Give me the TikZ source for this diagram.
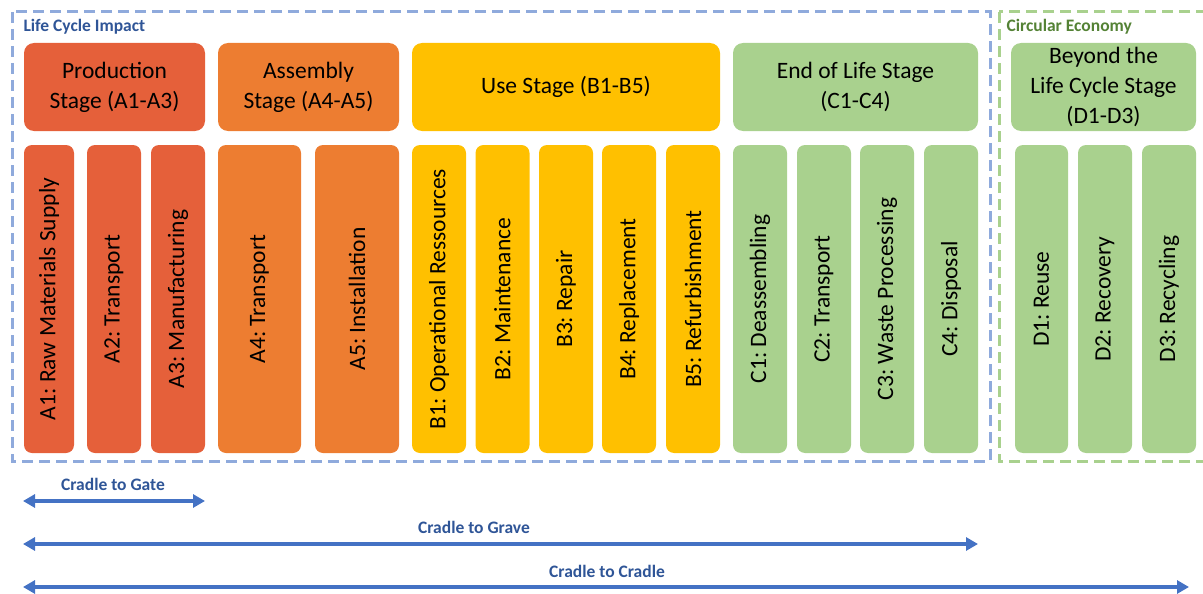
\documentclass[tikz,border=0pt]{standalone}
\usepackage{fontspec}
\setmainfont{Carlito}
\usetikzlibrary{arrows.meta}
\frenchspacing

\definecolor{prodred}{HTML}{E5603A}
\definecolor{asmorange}{HTML}{ED7D31}
\definecolor{usegold}{HTML}{FFC000}
\definecolor{eolgreen}{HTML}{A9D18E}
\definecolor{lciblue}{HTML}{8FAADC}
\definecolor{titleblue}{HTML}{2F5597}
\definecolor{titlegreen}{HTML}{548235}
\definecolor{arrowblue}{HTML}{4472C4}

\tikzset{
    stage/.style = {rounded corners = 10pt, inner sep = 0pt, align = center,
        font = \fontsize{23.5}{30}\selectfont},
    module/.style = {rounded corners = 8pt, inner sep = 0pt, rotate = 90,
        minimum width = 308pt, font = \fontsize{23.5}{30}\selectfont},
    frame/.style = {line width = 3pt, dash pattern = on 11pt off 6pt},
    boxtitle/.style = {anchor = west, font = \fontsize{17.5}{20}\selectfont\bfseries},
    cycle/.style = {arrowblue, line width = 4pt, {Triangle[length = 12pt, width = 13pt]}-{Triangle[length = 12pt, width = 13pt]}},
    cyclelabel/.style = {titleblue, font = \fontsize{17.5}{20}\selectfont\bfseries}
}

\begin{document}
\begin{tikzpicture}[x = 1pt, y = -1pt]
    \useasboundingbox (0, 0) rectangle (1203, 594);

    % Rahmen
    \draw [frame, lciblue] (12, 12) rectangle (990, 461);
    \draw [frame, eolgreen] (999, 12) rectangle (1215, 461);
    \node [boxtitle, titleblue] (lci) at (20, 27) {Life Cycle Impact};
    \node [boxtitle, titlegreen] (ce) at (1003, 27) {Circular Economy};

    % Stufen
    \node [stage, fill = prodred, minimum width = 181pt, minimum height = 88pt] (prod) at (114.5, 87) {Production\\Stage (A1-A3)};
    \node [stage, fill = asmorange, minimum width = 181pt, minimum height = 88pt] (asm) at (308.5, 87) {Assembly\\Stage (A4-A5)};
    \node [stage, fill = usegold, minimum width = 308pt, minimum height = 88pt] (use) at (566, 87) {Use Stage (B1-B5)};
    \node [stage, fill = eolgreen, minimum width = 245pt, minimum height = 88pt] (eol) at (855.5, 87) {End of Life Stage\\(C1-C4)};
    \node [stage, fill = eolgreen, minimum width = 185pt, minimum height = 88pt] (beyond) at (1103.5, 87) {Beyond the\\Life Cycle Stage\\(D1-D3)};

    % Module A
    \node [module, fill = prodred, minimum height = 50pt] (a1) at (49, 299) {A1: Raw Materials Supply};
    \node [module, fill = prodred, minimum height = 54pt] (a2) at (114, 299) {A2: Transport};
    \node [module, fill = prodred, minimum height = 54pt] (a3) at (178, 299) {A3: Manufacturing};
    \node [module, fill = asmorange, minimum height = 83pt] (a4) at (259.5, 299) {A4: Transport};
    \node [module, fill = asmorange, minimum height = 84pt] (a5) at (357, 299) {A5: Installation};

    % Module B
    \node [module, fill = usegold, minimum height = 54pt] (b1) at (439, 299) {B1: Operational Ressources};
    \node [module, fill = usegold, minimum height = 54pt] (b2) at (502.5, 299) {B2: Maintenance};
    \node [module, fill = usegold, minimum height = 54pt] (b3) at (566, 299) {B3: Repair};
    \node [module, fill = usegold, minimum height = 54pt] (b4) at (629, 299) {B4: Replacement};
    \node [module, fill = usegold, minimum height = 54pt] (b5) at (693, 299) {B5: Refurbishment};

    % Module C
    \node [module, fill = eolgreen, minimum height = 54pt] (c1) at (760, 299) {C1: Deassembling};
    \node [module, fill = eolgreen, minimum height = 54pt] (c2) at (824, 299) {C2: Transport};
    \node [module, fill = eolgreen, minimum height = 54pt] (c3) at (887, 299) {C3: Waste Processing};
    \node [module, fill = eolgreen, minimum height = 54pt] (c4) at (951, 299) {C4: Disposal};

    % Module D
    \node [module, fill = eolgreen, minimum height = 53pt] (d1) at (1041.5, 299) {D1: Reuse};
    \node [module, fill = eolgreen, minimum height = 54pt] (d2) at (1105, 299) {D2: Recovery};
    \node [module, fill = eolgreen, minimum height = 54pt] (d3) at (1169, 299) {D3: Recycling};

    % Systemgrenzen
    \coordinate (gatel) at (23, 501);
    \coordinate (gater) at (205, 501);
    \coordinate (gravel) at (23, 544);
    \coordinate (graver) at (978, 544);
    \coordinate (cradlel) at (23, 587);
    \coordinate (cradler) at (1189, 587);
    \draw [cycle] (gatel) -- (gater);
    \draw [cycle] (gravel) -- (graver);
    \draw [cycle] (cradlel) -- (cradler);
    \node [cyclelabel] (gate) at (113, 484) {Cradle to Gate};
    \node [cyclelabel] (grave) at (474, 527) {Cradle to Grave};
    \node [cyclelabel] (cradle) at (607, 571) {Cradle to Cradle};
\end{tikzpicture}
\end{document}
